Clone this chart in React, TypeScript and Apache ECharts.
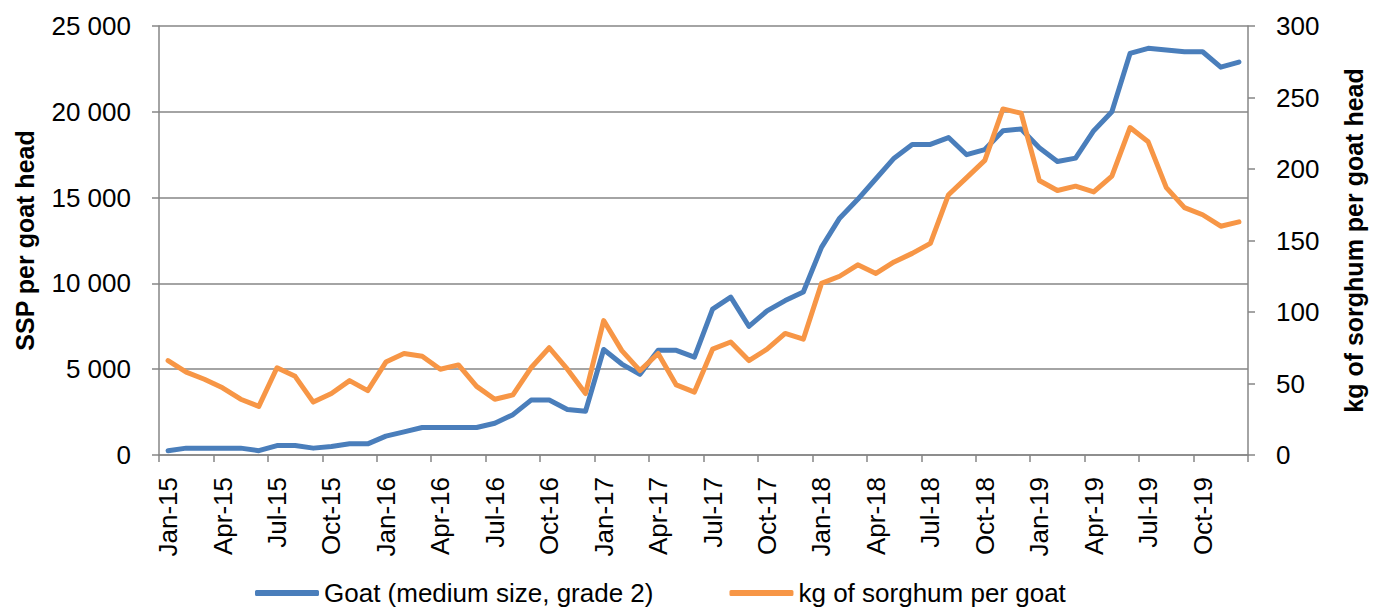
import React, { useEffect, useRef } from "react";
import * as echarts from "echarts";

const months = ["Jan", "Feb", "Mar", "Apr", "May", "Jun", "Jul", "Aug", "Sep", "Oct", "Nov", "Dec"];
const years = ["15", "16", "17", "18", "19"];
const categories: string[] = [];
years.forEach((y) => months.forEach((m) => categories.push(`${m}-${y}`)));

const goatPrice = [
  250, 400, 400, 400, 400, 250, 550, 550, 400, 500, 650, 650,
  1100, 1350, 1600, 1600, 1600, 1600, 1850, 2350, 3200, 3200, 2650, 2550,
  6150, 5300, 4700, 6100, 6100, 5700, 8500, 9200, 7500, 8400, 9000, 9500,
  12100, 13800, 14900, 16100, 17300, 18100, 18100, 18500, 17500, 17800, 18900, 19000,
  17900, 17100, 17300, 18900, 20000, 23400, 23700, 23600, 23500, 23500, 22600, 22900,
];

const sorghumPerGoat = [
  66, 58, 53, 47, 39, 34, 61, 55, 37, 43, 52, 45,
  65, 71, 69, 60, 63, 48, 39, 42, 61, 75, 60, 43,
  94, 73, 59, 71, 49, 44, 74, 79, 66, 74, 85, 81,
  120, 125, 133, 127, 135, 141, 148, 182, 194, 206, 242, 239,
  192, 185, 188, 184, 195, 229, 219, 187, 173, 168, 160, 163,
];

const seriesNames = ["Goat (medium size, grade 2)", "kg of sorghum per goat"];
const leftAxisTitle = "SSP per goat head";
const rightAxisTitle = "kg of sorghum per goat head";

const FONT = "'Liberation Sans', Arial, sans-serif";
const GRAY = "#868686";

function fmtThousands(v: number): string {
  const s = String(Math.round(v));
  return s.replace(/\B(?=(\d{3})+(?!\d))/g, " ");
}

export default function App() {
  const ref = useRef<HTMLDivElement>(null);
  useEffect(() => {
    if (!ref.current) return;
    const chart = echarts.init(ref.current, undefined, { renderer: "svg" });
    chart.setOption({
      animation: false,
      backgroundColor: "#ffffff",
      textStyle: { fontFamily: FONT },
      grid: { left: 159, right: 133, top: 26, bottom: 154, outerBoundsMode: "none" },
      legend: {
        left: 255,
        top: 580,
        padding: 0,
        itemWidth: 64,
        itemHeight: 6,
        itemGap: 76,
        icon: "roundRect",
        textStyle: { fontFamily: FONT, fontSize: 26, lineHeight: 26, color: "#000" },
        data: seriesNames,
      },
      xAxis: {
        type: "category",
        data: categories,
        boundaryGap: true,
        axisLine: { lineStyle: { color: GRAY, width: 1.5 } },
        axisTick: { show: true, interval: 2, length: 7, lineStyle: { color: GRAY, width: 1.5 } },
        axisLabel: {
          interval: 2,
          rotate: 90,
          margin: 22,
          fontFamily: FONT,
          fontSize: 26,
          color: "#000",
        },
        splitLine: { show: false },
      },
      yAxis: [
        {
          type: "value",
          min: 0,
          max: 25000,
          interval: 5000,
          name: leftAxisTitle,
          nameLocation: "middle",
          nameRotate: 90,
          nameGap: 122,
          nameTextStyle: { fontFamily: FONT, fontSize: 25, fontWeight: "bold", color: "#000" },
          axisLine: { show: true, lineStyle: { color: GRAY, width: 1.5 } },
          axisTick: { show: true, length: 7, lineStyle: { color: GRAY, width: 1.5 } },
          axisLabel: {
            margin: 28,
            fontFamily: FONT,
            fontSize: 26,
            color: "#000",
            formatter: (v: number) => fmtThousands(v),
          },
          splitLine: { show: true, lineStyle: { color: GRAY, width: 1.5 } },
        },
        {
          type: "value",
          min: 0,
          max: 300,
          interval: 50,
          position: "right",
          name: rightAxisTitle,
          nameLocation: "middle",
          nameRotate: 90,
          nameGap: 93,
          nameTextStyle: { fontFamily: FONT, fontSize: 25, fontWeight: "bold", color: "#000" },
          axisLine: { show: true, lineStyle: { color: GRAY, width: 1.5 } },
          axisTick: { show: true, length: 7, lineStyle: { color: GRAY, width: 1.5 } },
          axisLabel: { margin: 28, fontFamily: FONT, fontSize: 26, color: "#000" },
          splitLine: { show: false },
        },
      ],
      series: [
        {
          name: seriesNames[0],
          type: "line",
          data: goatPrice,
          yAxisIndex: 0,
          symbol: "none",
          lineStyle: { color: "#4A7EBB", width: 5, cap: "round", join: "round" },
          itemStyle: { color: "#4A7EBB" },
        },
        {
          name: seriesNames[1],
          type: "line",
          data: sorghumPerGoat,
          yAxisIndex: 1,
          symbol: "none",
          lineStyle: { color: "#F79646", width: 5, cap: "round", join: "round" },
          itemStyle: { color: "#F79646" },
        },
      ],
    });
    return () => chart.dispose();
  }, []);
  return (
    <div
      ref={ref}
      style={{ position: "fixed", left: 0, top: 0, width: 1381, height: 609, background: "#fff" }}
    />
  );
}
